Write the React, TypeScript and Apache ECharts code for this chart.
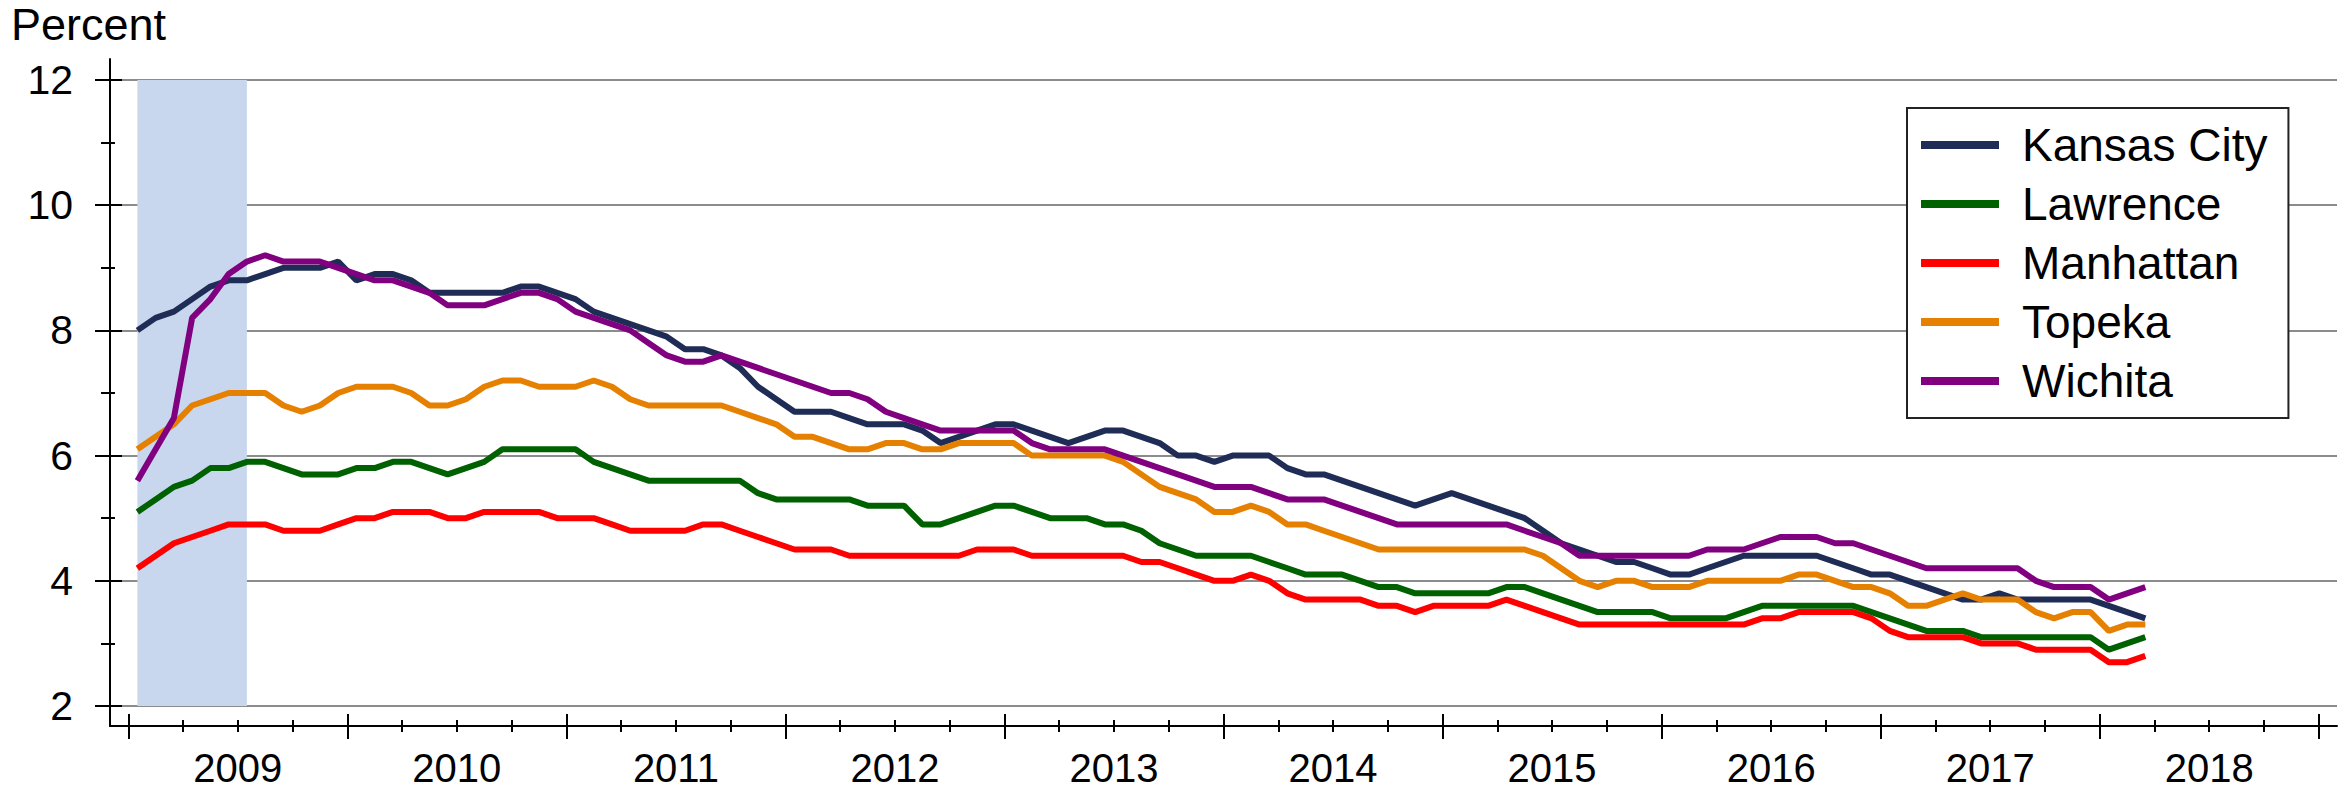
import React, { useEffect, useRef } from 'react';
import * as echarts from 'echarts';

const FONT = '"Liberation Sans", Arial, sans-serif';

const seriesNames = ['Kansas City', 'Lawrence', 'Manhattan', 'Topeka', 'Wichita'];
const seriesColors = ['#1f2d56', '#006100', '#ff0000', '#e68000', '#800080'];
const yearLabels = ['2009', '2010', '2011', '2012', '2013', '2014', '2015', '2016', '2017', '2018'];

// monthly unemployment rate, Jan 2009 .. Mar 2018
const kansasCity = [
  8.0, 8.2, 8.3, 8.5, 8.7, 8.8, 8.8, 8.9, 9.0, 9.0, 9.0, 9.1, 8.8, 8.9, 8.9, 8.8, 8.6, 8.6, 8.6, 8.6, 8.6, 8.7, 8.7, 8.6, 8.5, 8.3, 8.2,
  8.1, 8.0, 7.9, 7.7, 7.7, 7.6, 7.4, 7.1, 6.9, 6.7, 6.7, 6.7, 6.6, 6.5, 6.5, 6.5, 6.4, 6.2, 6.3, 6.4, 6.5, 6.5, 6.4, 6.3, 6.2, 6.3, 6.4,
  6.4, 6.3, 6.2, 6.0, 6.0, 5.9, 6.0, 6.0, 6.0, 5.8, 5.7, 5.7, 5.6, 5.5, 5.4, 5.3, 5.2, 5.3, 5.4, 5.3, 5.2, 5.1, 5.0, 4.8, 4.6, 4.5, 4.4, 4.3,
  4.3, 4.2, 4.1, 4.1, 4.2, 4.3, 4.4, 4.4, 4.4, 4.4, 4.4, 4.3, 4.2, 4.1, 4.1, 4.0, 3.9, 3.8, 3.7, 3.7, 3.8, 3.7, 3.7, 3.7, 3.7, 3.7, 3.6, 3.5, 3.4,
];
const lawrence = [
  5.1, 5.3, 5.5, 5.6, 5.8, 5.8, 5.9, 5.9, 5.8, 5.7, 5.7, 5.7, 5.8, 5.8, 5.9, 5.9, 5.8, 5.7, 5.8, 5.9, 6.1, 6.1, 6.1, 6.1, 6.1, 5.9, 5.8,
  5.7, 5.6, 5.6, 5.6, 5.6, 5.6, 5.6, 5.4, 5.3, 5.3, 5.3, 5.3, 5.3, 5.2, 5.2, 5.2, 4.9, 4.9, 5.0, 5.1, 5.2, 5.2, 5.1, 5.0, 5.0, 5.0, 4.9,
  4.9, 4.8, 4.6, 4.5, 4.4, 4.4, 4.4, 4.4, 4.3, 4.2, 4.1, 4.1, 4.1, 4.0, 3.9, 3.9, 3.8, 3.8, 3.8, 3.8, 3.8, 3.9, 3.9, 3.8, 3.7, 3.6, 3.5, 3.5,
  3.5, 3.5, 3.4, 3.4, 3.4, 3.4, 3.5, 3.6, 3.6, 3.6, 3.6, 3.6, 3.6, 3.5, 3.4, 3.3, 3.2, 3.2, 3.2, 3.1, 3.1, 3.1, 3.1, 3.1, 3.1, 3.1, 2.9, 3.0, 3.1,
];
const manhattan = [
  4.2, 4.4, 4.6, 4.7, 4.8, 4.9, 4.9, 4.9, 4.8, 4.8, 4.8, 4.9, 5.0, 5.0, 5.1, 5.1, 5.1, 5.0, 5.0, 5.1, 5.1, 5.1, 5.1, 5.0, 5.0, 5.0, 4.9,
  4.8, 4.8, 4.8, 4.8, 4.9, 4.9, 4.8, 4.7, 4.6, 4.5, 4.5, 4.5, 4.4, 4.4, 4.4, 4.4, 4.4, 4.4, 4.4, 4.5, 4.5, 4.5, 4.4, 4.4, 4.4, 4.4, 4.4,
  4.4, 4.3, 4.3, 4.2, 4.1, 4.0, 4.0, 4.1, 4.0, 3.8, 3.7, 3.7, 3.7, 3.7, 3.6, 3.6, 3.5, 3.6, 3.6, 3.6, 3.6, 3.7, 3.6, 3.5, 3.4, 3.3, 3.3, 3.3,
  3.3, 3.3, 3.3, 3.3, 3.3, 3.3, 3.3, 3.4, 3.4, 3.5, 3.5, 3.5, 3.5, 3.4, 3.2, 3.1, 3.1, 3.1, 3.1, 3.0, 3.0, 3.0, 2.9, 2.9, 2.9, 2.9, 2.7, 2.7, 2.8,
];
const topeka = [
  6.1, 6.3, 6.5, 6.8, 6.9, 7.0, 7.0, 7.0, 6.8, 6.7, 6.8, 7.0, 7.1, 7.1, 7.1, 7.0, 6.8, 6.8, 6.9, 7.1, 7.2, 7.2, 7.1, 7.1, 7.1, 7.2, 7.1,
  6.9, 6.8, 6.8, 6.8, 6.8, 6.8, 6.7, 6.6, 6.5, 6.3, 6.3, 6.2, 6.1, 6.1, 6.2, 6.2, 6.1, 6.1, 6.2, 6.2, 6.2, 6.2, 6.0, 6.0, 6.0, 6.0, 6.0,
  5.9, 5.7, 5.5, 5.4, 5.3, 5.1, 5.1, 5.2, 5.1, 4.9, 4.9, 4.8, 4.7, 4.6, 4.5, 4.5, 4.5, 4.5, 4.5, 4.5, 4.5, 4.5, 4.5, 4.4, 4.2, 4.0, 3.9, 4.0,
  4.0, 3.9, 3.9, 3.9, 4.0, 4.0, 4.0, 4.0, 4.0, 4.1, 4.1, 4.0, 3.9, 3.9, 3.8, 3.6, 3.6, 3.7, 3.8, 3.7, 3.7, 3.7, 3.5, 3.4, 3.5, 3.5, 3.2, 3.3, 3.3,
];
const wichita = [
  5.6, 6.1, 6.6, 8.2, 8.5, 8.9, 9.1, 9.2, 9.1, 9.1, 9.1, 9.0, 8.9, 8.8, 8.8, 8.7, 8.6, 8.4, 8.4, 8.4, 8.5, 8.6, 8.6, 8.5, 8.3, 8.2, 8.1,
  8.0, 7.8, 7.6, 7.5, 7.5, 7.6, 7.5, 7.4, 7.3, 7.2, 7.1, 7.0, 7.0, 6.9, 6.7, 6.6, 6.5, 6.4, 6.4, 6.4, 6.4, 6.4, 6.2, 6.1, 6.1, 6.1, 6.1,
  6.0, 5.9, 5.8, 5.7, 5.6, 5.5, 5.5, 5.5, 5.4, 5.3, 5.3, 5.3, 5.2, 5.1, 5.0, 4.9, 4.9, 4.9, 4.9, 4.9, 4.9, 4.9, 4.8, 4.7, 4.6, 4.4, 4.4, 4.4,
  4.4, 4.4, 4.4, 4.4, 4.5, 4.5, 4.5, 4.6, 4.7, 4.7, 4.7, 4.6, 4.6, 4.5, 4.4, 4.3, 4.2, 4.2, 4.2, 4.2, 4.2, 4.2, 4.0, 3.9, 3.9, 3.9, 3.7, 3.8, 3.9,
];
const seriesValues = [kansasCity, lawrence, manhattan, topeka, wichita];

// shaded recession, first and last shaded month index (Jan 2009 = 0)
const recessionMonths = [0, 6];

// x axis runs in months from Jan 2009; a month's point sits in the middle of it
const X_MIN = -1;
const X_MAX = 121;
const yearTicks: number[] = [];
const quarterTicks: number[] = [];
for (let m = 0; m <= 120; m += 3) {
  if (m % 12 === 0) yearTicks.push(m);
  else quarterTicks.push(m);
}
const yearLabelPos = yearLabels.map((_, i) => i * 12 + 6);

const black = { color: '#000', width: 2 };

const frameX = (ticks: number[], inside: boolean, length: number, extra: any = {}) => ({
  type: 'value',
  gridIndex: 0,
  position: 'bottom',
  min: X_MIN,
  max: X_MAX,
  axisLine: { show: false, onZero: false },
  axisTick: { show: true, inside, length, customValues: ticks, lineStyle: black },
  axisLabel: { show: false },
  splitLine: { show: false },
  ...extra,
});

const UnemploymentChart: React.FC = () => {
  const chartRef = useRef<HTMLDivElement>(null);

  useEffect(() => {
    document.body.style.margin = '0';
    const chart = echarts.init(chartRef.current!, undefined, { renderer: 'svg' });

    const option = {
      animation: false,
      textStyle: { fontFamily: FONT },
      title: {
        text: 'Percent',
        left: 11,
        top: 2,
        padding: 0,
        textStyle: { fontSize: 45, fontWeight: 'normal', color: '#000', fontFamily: FONT },
      },
      legend: {
        orient: 'vertical',
        left: 1907,
        top: 108,
        padding: [14, 21, 14, 14],
        itemGap: 13,
        itemWidth: 78,
        itemHeight: 8,
        icon: 'rect',
        backgroundColor: '#fff',
        borderColor: '#222',
        borderWidth: 2,
        textStyle: { fontSize: 46, color: '#000', fontFamily: FONT, padding: [0, 0, 0, 18] },
        data: seriesNames,
      },
      grid: [
        { left: 110, right: 14, top: 59, bottom: 63 },
        { left: 110, right: 14, top: 80, bottom: 83 },
      ],
      xAxis: [
        frameX(yearTicks, false, 13, {
          axisLine: { show: true, onZero: false, lineStyle: black },
          axisLabel: {
            show: true,
            customValues: yearLabelPos,
            formatter: (v: number) => yearLabels[Math.round((v - 6) / 12)],
            fontSize: 40,
            color: '#000',
            margin: 22,
            fontFamily: FONT,
          },
        }),
        frameX(yearTicks, true, 12),
        frameX(quarterTicks, false, 6),
        frameX(quarterTicks, true, 6),
        {
          type: 'value',
          gridIndex: 1,
          min: X_MIN,
          max: X_MAX,
          show: false,
        },
      ],
      yAxis: [
        {
          type: 'value',
          gridIndex: 0,
          position: 'left',
          min: 0,
          max: 1,
          axisLine: { show: true, onZero: false, lineStyle: black },
          axisTick: { show: false },
          axisLabel: { show: false },
          splitLine: { show: false },
        },
        {
          type: 'value',
          gridIndex: 1,
          position: 'left',
          min: 2,
          max: 12,
          interval: 2,
          axisLine: { show: false, onZero: false },
          axisTick: { show: true, length: 15, lineStyle: black },
          minorTick: { show: true, splitNumber: 2, length: 9, lineStyle: black },
          axisLabel: { fontSize: 41, color: '#000', margin: 37, fontFamily: FONT },
          splitLine: { show: true, lineStyle: { color: '#666', width: 1.5 } },
        },
        {
          type: 'value',
          gridIndex: 1,
          position: 'left',
          min: 2,
          max: 12,
          interval: 2,
          axisLine: { show: false, onZero: false },
          axisTick: { show: true, inside: true, length: 12, lineStyle: black },
          minorTick: { show: true, splitNumber: 2, length: 5, lineStyle: black },
          axisLabel: { show: false },
          splitLine: { show: false },
        },
      ],
      series: seriesNames.map((name, k) => ({
        name,
        type: 'line',
        xAxisIndex: 4,
        yAxisIndex: 1,
        symbol: 'none',
        showSymbol: false,
        lineStyle: { color: seriesColors[k], width: 6 },
        itemStyle: { color: seriesColors[k] },
        data: seriesValues[k].map((v, i) => [i + 0.5, v]),
        markArea:
          k === 0
            ? {
                silent: true,
                itemStyle: { color: '#c9d7ee', opacity: 1 },
                data: [[{ xAxis: recessionMonths[0] + 0.5 }, { xAxis: recessionMonths[1] + 0.5 }]],
              }
            : undefined,
      })),
    };

    chart.setOption(option);

    return () => {
      chart.dispose();
    };
  }, []);

  return <div ref={chartRef} style={{ width: '2351px', height: '789px' }} />;
};

export default function App() {
  return <UnemploymentChart />;
}
